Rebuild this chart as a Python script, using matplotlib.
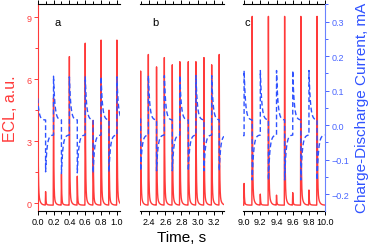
import numpy as np
import matplotlib
matplotlib.use("Agg")
import matplotlib.pyplot as plt
from matplotlib.ticker import MultipleLocator

plt.rcParams['font.family'] = ['Liberation Sans', 'DejaVu Sans']

# ECL pulses: time (s) and peak height (a.u.)
ecl_a_t = [0.0, 0.1, 0.2, 0.3, 0.4, 0.5, 0.6, 0.7, 0.8, 0.9, 1.0]
ecl_a_h = [10.5, 0.65, 5.2, 1.5, 7.2, 1.4, 7.85, 4.1, 8.0, 4.6, 8.0]
ecl_b_t = [2.292, 2.388, 2.49, 2.587, 2.686, 2.78, 2.885, 2.98, 3.08, 3.176, 3.27]
ecl_b_h = [6.5, 7.3, 6.7, 7.15, 6.8, 6.95, 6.95, 6.95, 7.15, 6.8, 7.3]
ecl_c_t = [9.0, 9.1, 9.2, 9.3, 9.4, 9.5, 9.6, 9.7, 9.8, 9.9]
ecl_c_h = [1.05, 9.15, 0.53, 9.15, 0.48, 9.15, 0.6, 9.15, 0.73, 9.15]

# charge-discharge current: switching times (s) and value right after switching (mA)
cur_a_t = [0.0, 0.1, 0.2, 0.3, 0.4, 0.5, 0.6, 0.7, 0.8, 0.9, 1.0]
cur_a_v = [0.078, -0.135, 0.142, -0.14, 0.14, -0.138, 0.14, -0.138, 0.14, -0.135, 0.14]
cur_b_t = [2.292, 2.388, 2.49, 2.587, 2.686, 2.78, 2.885, 2.98, 3.08, 3.176, 3.27]
cur_b_v = [-0.133, 0.145, -0.133, 0.145, -0.133, 0.145, -0.133, 0.145, -0.133, 0.145, -0.133]
cur_c_t = [9.0, 9.1, 9.2, 9.3, 9.4, 9.5, 9.6, 9.7, 9.8, 9.9]
cur_c_v = [0.16, -0.16, 0.16, -0.16, 0.16, -0.16, 0.16, -0.16, 0.16, -0.16]
cur_start = [0.078, 0.018, -0.03]

xlims = [(0.0, 1.045), (2.284, 3.328), (8.985, 10.0)]
letters = ['a', 'b', 'c']

red = '#ff3a3a'
blue = '#2f52ff'


def ecl_trace(t, times, heights):
    y = np.full_like(t, -0.1)
    for t0, h in zip(times, heights):
        d = t - t0
        r = (d > -0.004) & (d < 0)
        y[r] += h * (1 + d[r] / 0.004)
        m = d >= 0
        y[m] += h * (0.9 * np.exp(-d[m] / 0.004) + 0.1 * np.exp(-d[m] / 0.018))
    return y


def current_trace(t, times, vals, start):
    y = np.full_like(t, start)
    for t0, v in zip(times, vals):
        asym = 0.015 if v > 0 else -0.028
        m = t >= t0
        y[m] = asym + (v - asym) * np.exp(-(t[m] - t0) / 0.018)
    return y


fig = plt.figure(figsize=(3.68, 2.51), dpi=100)
lefts = [0.1024, 0.3804, 0.660]
widths = [0.225, 0.228, 0.2236]
bottom, height = 0.1566, 0.8234

data = [(ecl_a_t, ecl_a_h, cur_a_t, cur_a_v),
        (ecl_b_t, ecl_b_h, cur_b_t, cur_b_v),
        (ecl_c_t, ecl_c_h, cur_c_t, cur_c_v)]

for i in range(3):
    ax = fig.add_axes([lefts[i], bottom, widths[i], height])
    et, eh, ct, cv = data[i]
    t = np.arange(xlims[i][0], xlims[i][1] + 0.0002, 0.0002)
    ax.plot(t, ecl_trace(t, et, eh), color=red, lw=1.0)
    ax.set_xlim(*xlims[i])
    ax.set_ylim(-0.37, 9.65)
    ax.xaxis.set_major_locator(MultipleLocator(0.2))
    ax.xaxis.set_minor_locator(MultipleLocator(0.1))
    ax.tick_params(axis='x', which='both', direction='out', top=True,
                   labelsize=6.5, pad=1.5, length=3, width=0.7)
    ax.tick_params(axis='x', which='minor', length=2)
    for s in ['top', 'bottom']:
        ax.spines[s].set_linewidth(0.8)
    ax.spines['right'].set_visible(False)
    if i == 0:
        ax.spines['left'].set_color(red)
        ax.yaxis.set_major_locator(MultipleLocator(3))
        ax.yaxis.set_minor_locator(MultipleLocator(1.5))
        ax.tick_params(axis='y', which='both', colors=red, labelsize=6.5,
                       length=3, width=0.7, pad=1.5)
        ax.tick_params(axis='y', which='minor', length=2)
        ax.set_ylabel('ECL, a.u.', color=red, fontsize=11.5, labelpad=6)
    else:
        ax.spines['left'].set_visible(False)
        ax.set_yticks([])
    ax.text(0.2 if i == 0 else 0.15 if i == 1 else 0.02, 0.9, letters[i],
            transform=ax.transAxes, fontsize=8)
    if i == 1:
        ax.set_xlabel('Time, s', fontsize=11, labelpad=3)

    ax2 = ax.twinx()
    ax2.plot(t, current_trace(t, ct, cv, cur_start[i]), color=blue, lw=1.0,
             ls=(0, (3.5, 2)))
    ax2.set_ylim(-0.2475, 0.351)
    ax2.set_xlim(*xlims[i])
    for s in ['left', 'top', 'bottom']:
        ax2.spines[s].set_visible(False)
    if i == 2:
        ax2.spines['right'].set_color('#6a82ff')
        ax2.yaxis.set_major_locator(MultipleLocator(0.1))
        ax2.yaxis.set_minor_locator(MultipleLocator(0.05))
        ax2.tick_params(axis='y', which='both', colors='#4a66ff', labelsize=6.5,
                        length=3, width=0.7, pad=1.5)
        ax2.tick_params(axis='y', which='minor', length=2)
        ax2.set_ylabel('Charge-Discharge Current, mA', color=blue, fontsize=11,
                       labelpad=4)
    else:
        ax2.spines['right'].set_visible(False)
        ax2.set_yticks([])

fig.savefig('out.png', dpi=100)
